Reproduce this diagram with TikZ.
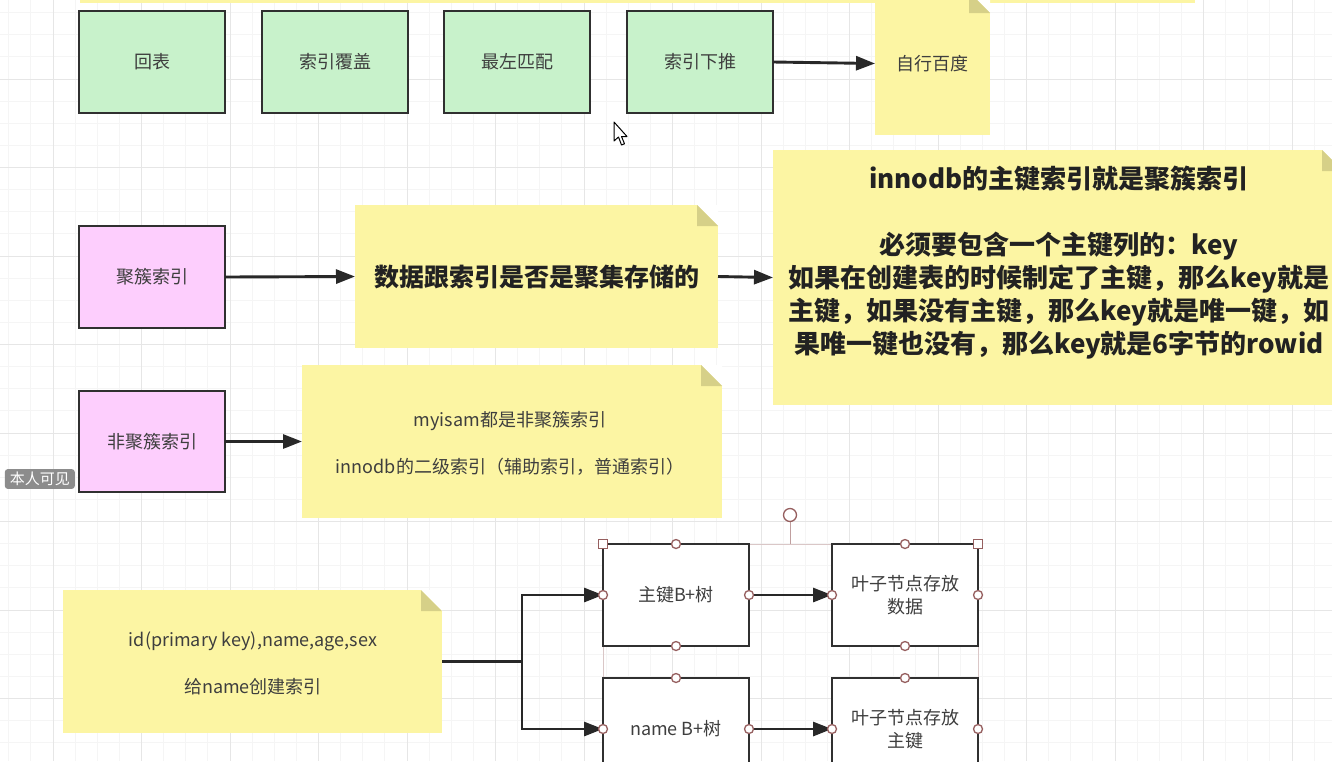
\documentclass[tikz,border=0pt]{standalone}
\usepackage{fontspec}
\setmainfont{Noto Sans CJK SC}
\usetikzlibrary{arrows.meta}
\definecolor{greenc}{RGB}{200,242,203}
\definecolor{pinkc}{RGB}{253,206,253}
\definecolor{notec}{RGB}{252,245,163}
\definecolor{foldc}{RGB}{214,208,136}
\definecolor{bordc}{RGB}{48,48,48}
\definecolor{linec}{RGB}{40,40,40}
\definecolor{txtc}{RGB}{62,62,62}
\definecolor{boldc}{RGB}{34,34,34}
\definecolor{handc}{RGB}{150,95,95}
\definecolor{minorg}{RGB}{245,245,245}
\definecolor{majorg}{RGB}{230,230,230}
\newcommand\foldnote[2]{%
  \fill[white] (#1.north east) -- ([xshift=-#2]#1.north east) -- ([yshift=-#2]#1.north east) -- cycle;
  \fill[foldc] ([xshift=-#2]#1.north east) -- ([xshift=-#2,yshift=-#2]#1.north east) -- ([yshift=-#2]#1.north east) -- cycle;}
\begin{document}
\begin{tikzpicture}[x=1pt,y=-1pt,
  box/.style={draw=bordc, line width=2.9pt, minimum width=146pt, minimum height=102pt, inner sep=0pt, outer sep=0pt, text=txtc, align=center, font=\fontsize{18}{23}\selectfont},
  greenbox/.style={box, fill=greenc},
  pinkbox/.style={box, fill=pinkc},
  whitebox/.style={box, fill=white},
  note/.style={fill=notec, inner sep=0pt, outer sep=0pt},
  notetext/.style={align=center, text=txtc, font=\fontsize{18}{23.5}\selectfont},
  boldtext/.style={align=center, text=boldc, font=\fontsize{26}{33}\selectfont\bfseries},
  arr/.style={draw=linec, line width=2.9pt, -{Triangle[length=19pt,width=14pt]}},
  handle/.style={circle, draw=handc, fill=white, line width=1.3pt, minimum size=9pt, inner sep=0pt},
  sqhandle/.style={rectangle, draw=handc, fill=white, line width=1.3pt, minimum size=9pt, inner sep=0pt},
]
\path[use as bounding box] (0,0) rectangle (1332,761);
\clip (0,0) rectangle (1332,761);
\fill[white] (0,0) rectangle (1332,761);
% grid
\foreach \i in {0,...,64} {\draw[minorg, line width=0.8pt] ({-35.5+\i*22.125},0) -- ({-35.5+\i*22.125},761);}
\foreach \i in {0,...,36} {\draw[minorg, line width=0.8pt] (0,{-9.5+\i*22.125}) -- (1332,{-9.5+\i*22.125});}
\foreach \i in {0,...,16} {\draw[majorg, line width=0.9pt] ({-35.5+\i*88.5},0) -- ({-35.5+\i*88.5},761);}
\foreach \i in {0,...,9} {\draw[majorg, line width=0.9pt] (0,{-9.5+\i*88.5}) -- (1332,{-9.5+\i*88.5});}
% top strip (bottom of a note above)
\fill[notec] (80,-20) rectangle (1195,3);

% row 1
\node[greenbox] (huibiao) at (152,62) {回表};
\node[greenbox] (fugai) at (335,62) {索引覆盖};
\node[greenbox] (zuozuo) at (517,62) {最左匹配};
\node[greenbox] (xiatui) at (700,62) {索引下推};
\node[note, minimum width=115pt, minimum height=143pt] (baidu) at (932.5,63.5) {};
\foldnote{baidu}{21pt}
\node[notetext] (baidutxt) at (baidu.center) {自行百度};
\draw[arr] (xiatui.east) -- (baidu.west);

% row 2
\node[pinkbox] (juculabel) at (152,277) {聚簇索引};
\node[note, minimum width=363pt, minimum height=143pt] (shuju) at (536.5,276.5) {};
\foldnote{shuju}{21pt}
\node[boldtext, font=\fontsize{25}{33}\selectfont\bfseries] (shujutxt) at (shuju.center) {数据跟索引是否是聚集存储的};
\node[note, minimum width=570pt, minimum height=255pt] (innodb) at (1058,277.5) {};
\foldnote{innodb}{21pt}
\node[boldtext] (innodbtxt) at (1059,263) {innodb的主键索引就是聚簇索引\\[33pt]必须要包含一个主键列的：key\\如果在创建表的时候制定了主键，那么key就是\\主键，如果没有主键，那么key就是唯一键，如\\果唯一键也没有，那么key就是6字节的rowid};
\draw[arr] (juculabel.east) -- (shuju.west);
\draw[arr] (shuju.east) -- (innodb.west);

% row 3
\node[pinkbox, minimum height=101pt] (feijucu) at (152,441.5) {非聚簇索引};
\node[note, minimum width=420pt, minimum height=153pt] (myisam) at (512,441.5) {};
\foldnote{myisam}{21pt}
\node[notetext] (myisamtxt) at (510,443.5) {myisam都是非聚簇索引\\[23.5pt]innodb的二级索引（辅助索引，普通索引）};
\draw[arr] (feijucu.east) -- (myisam.west);

% row 4
\node[note, minimum width=379pt, minimum height=143pt] (idnote) at (252.5,661.5) {};
\foldnote{idnote}{21pt}
\node[notetext] (idtxt) at (253,663.5) {id(primary key),name,age,sex\\[23.5pt]给name创建索引};

% selection outline
\draw[handc!35, line width=1pt] (603,544) rectangle (978,800);
\draw[handc!60, line width=1pt] (790,544) -- (790,521);
\node[handle, minimum size=13pt] (rot) at (790,515) {};

\node[whitebox] (pk) at (676,595) {主键B+树};
\node[whitebox] (leafdata) at (905,595) {叶子节点存放\\数据};
\node[whitebox] (nameb) at (676,729) {name B+树};
\node[whitebox] (leafpk) at (905,729) {叶子节点存放\\主键};

\draw[arr] (idnote.east) -- ++(80,0) coordinate (fork) |- (pk.west);
\draw[arr] (fork) |- (nameb.west);
\draw[arr] (pk.east) -- (leafdata.west);
\draw[arr] (nameb.east) -- (leafpk.west);

% handles
\node[sqhandle] (s1) at (pk.north west) {};
\node[sqhandle] (s2) at (leafdata.north east) {};
\foreach \n in {pk,leafdata} {
  \node[handle] at (\n.north) {};
  \node[handle] at (\n.south) {};
  \node[handle] at (\n.west) {};
  \node[handle] at (\n.east) {};
}
\foreach \n in {nameb,leafpk} {
  \node[handle] at (\n.north) {};
  \node[handle] at (\n.west) {};
  \node[handle] at (\n.east) {};
}

% mouse cursor
\filldraw[fill=white, draw=black, line width=1pt, line join=round]
  (614,122) -- (614,141) -- (618.5,137) -- (621.5,145) -- (624.5,143.8) -- (621.5,136.5) -- (627,136.5) -- cycle;

% overlay label at left
\node[fill=black!45, rounded corners=3pt, text=white, font=\fontsize{15}{17}\selectfont, inner xsep=5pt, inner ysep=3pt, anchor=east] (vis) at (75,479) {本人可见};
\end{tikzpicture}
\end{document}
